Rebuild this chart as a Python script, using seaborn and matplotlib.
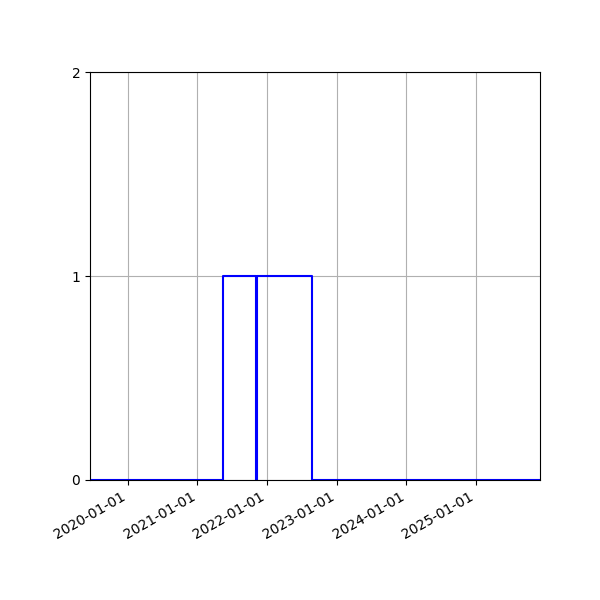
import matplotlib
matplotlib.use("Agg")
import matplotlib.pyplot as plt
import matplotlib.dates as mdates
import seaborn as sns
import pandas as pd

dates = ["2019-06-18", "2021-05-15", "2021-11-03", "2021-11-07", "2022-08-22", "2025-12-01"]
values = [0, 1, 0, 1, 0, 0]

df = pd.DataFrame({"date": pd.to_datetime(dates), "value": values})

fig, ax = plt.subplots(figsize=(6, 6), dpi=100)
sns.lineplot(data=df, x="date", y="value", ax=ax, color="blue", drawstyle="steps-post", linewidth=1.5)
ax.set_xlim(pd.Timestamp("2019-06-18"), pd.Timestamp("2025-12-01"))
ax.set_ylim(0, 2)
ax.set_yticks([0, 1, 2])
ax.xaxis.set_major_locator(mdates.YearLocator())
ax.xaxis.set_major_formatter(mdates.DateFormatter("%Y-%m-%d"))
ax.set_xlabel("")
ax.set_ylabel("")
ax.grid(True)
fig.autofmt_xdate()
fig.subplots_adjust(left=0.15, right=0.9, top=0.88, bottom=0.2)
fig.savefig("out.png")
